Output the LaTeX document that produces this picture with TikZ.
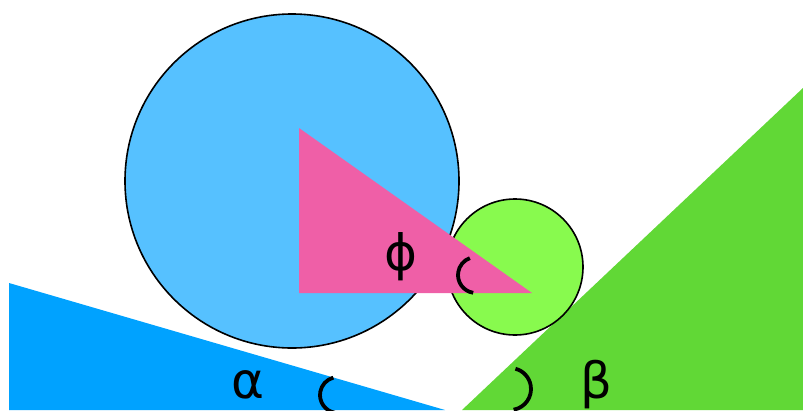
\documentclass[tikz,border=0pt]{standalone}
\usepackage{fontspec}
\setmainfont{DejaVu Sans}
\definecolor{kblue}{HTML}{00A2FF}
\definecolor{klblue}{HTML}{56C1FF}
\definecolor{kgreen}{HTML}{61D836}
\definecolor{klgreen}{HTML}{88FA4E}
\definecolor{kpink}{HTML}{EF5FA7}
\tikzset{
  ball/.style={draw=black, line width=1.6pt},
  anglemark/.style={draw=black, line width=3.8pt},
  lbl/.style={font=\fontsize{50}{60}\selectfont, inner sep=0pt, anchor=base}
}
\begin{document}
\begin{tikzpicture}[x=1pt,y=-1pt]
\useasboundingbox (0,0) rectangle (803,410);
\clip (0,0) rectangle (803,410);
% slopes
\fill[kblue] (9,283) -- (445,410) -- (9,410) -- cycle;
\fill[kgreen] (462,410) -- (803,88) -- (803,410) -- cycle;
% circles
\draw[ball, fill=klblue] (292,181) circle[radius=167];
\draw[ball, fill=klgreen] (515,267) circle[radius=68];
% triangle
\fill[kpink] (299,128) -- (299,293) -- (532,293) -- cycle;
% angle marks
\draw[anglemark] (476,275) ++(99:18) arc[start angle=99, end angle=250, radius=18];
\draw[anglemark] (338,395) ++(100:18) arc[start angle=100, end angle=255, radius=18];
\draw[anglemark] (510,389) ++(80:21) arc[start angle=80, end angle=-75, radius=21];
% labels
\node[lbl] (alpha) at (248,398) {α};
\node[lbl] (beta) at (596,398) {β};
\node[lbl] (phi) at (401,270) {ϕ};
\end{tikzpicture}
\end{document}
